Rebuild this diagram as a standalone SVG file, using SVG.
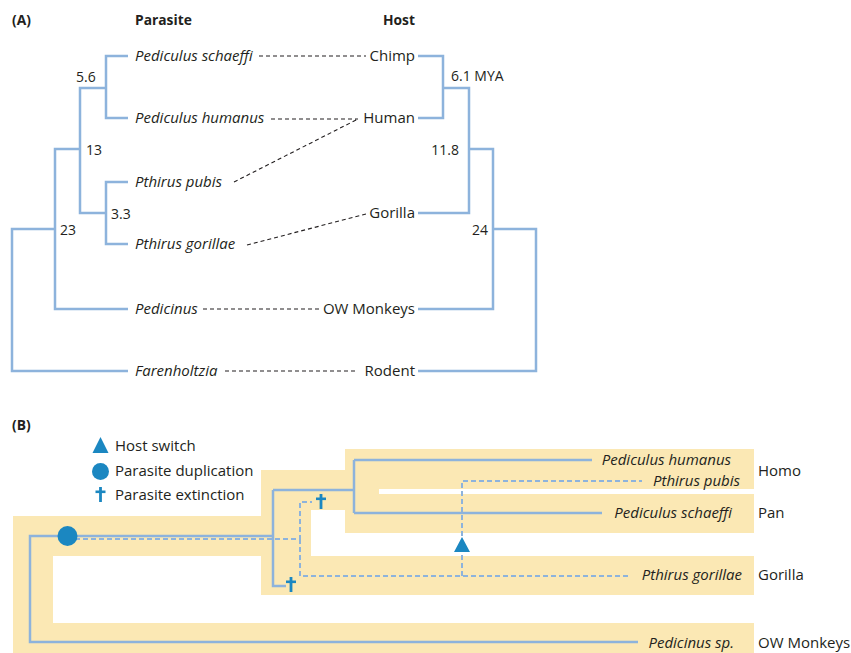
<svg xmlns="http://www.w3.org/2000/svg" width="851" height="653" viewBox="0 0 851 653">
<style>
text{font-family:"Open Sans","Noto Sans","Liberation Sans",sans-serif;font-size:15px;fill:#231f20}
.b{font-weight:bold;font-size:13.8px}
.i{font-style:italic}
.e{text-anchor:end}
.s{font-size:14px}
.tree{fill:none;stroke:#8db3dc;stroke-width:2.5}
.dash{fill:none;stroke:#8db3dc;stroke-width:2;stroke-dasharray:5 3}
.link{fill:none;stroke:#231f20;stroke-width:1.1;stroke-dasharray:4 3}
.band{fill:#fbe8b4}
.mark{fill:#1b87c1}
</style>
<defs>
<g id="dagger"><rect x="-1.4" y="0" width="2.8" height="15" class="mark"/><rect x="-5" y="3.5" width="10" height="2.6" class="mark"/></g>
</defs>
<rect width="851" height="653" fill="#fff"/>

<!-- Panel A -->
<g id="panelA-labels">
<text x="12" y="25" class="b">(A)</text>
<text x="135" y="25" class="b">Parasite</text>
<text x="383" y="25" class="b">Host</text>
</g>
<g id="parasite-tree">
<path class="tree" d="M128,56H106V118H128M106,88H80V213H106M128,182H106V244H128M80,149H55V309H128M55,229H12V371H128"/>
<text x="76" y="82" class="s">5.6</text>
<text x="86" y="155" class="s">13</text>
<text x="111" y="219" class="s">3.3</text>
<text x="60" y="235" class="s">23</text>
</g>
<g id="host-tree">
<path class="tree" d="M418,56H443V118H418M443,88H469V213H418M469,149H493V309H418M493,229H536V371H418"/>
<text x="451" y="81" class="s">6.1 MYA</text>
<text x="459" y="155" class="e s">11.8</text>
<text x="488" y="235" class="e s">24</text>
</g>
<g id="parasites">
<text x="135" y="61" class="i">Pediculus schaeffi</text>
<text x="135" y="123" class="i">Pediculus humanus</text>
<text x="135" y="187" class="i">Pthirus pubis</text>
<text x="135" y="249" class="i">Pthirus gorillae</text>
<text x="135" y="314" class="i">Pedicinus</text>
<text x="135" y="376" class="i">Farenholtzia</text>
</g>
<g id="hosts">
<text x="415" y="61" class="e">Chimp</text>
<text x="415" y="123" class="e">Human</text>
<text x="415" y="218" class="e">Gorilla</text>
<text x="415" y="314" class="e">OW Monkeys</text>
<text x="415" y="376" class="e">Rodent</text>
</g>
<g id="connectors-A">
<path class="link" d="M259,56H366M271,119H358M234,182L358,119M247,245L366,214M203,309H320M225,371H358"/>
</g>

<!-- Panel B -->
<g id="panelB-title"><text x="12" y="430" class="b">(B)</text></g>
<g id="legend">
<polygon class="mark" points="100.5,437 108.5,453 92.5,453"/>
<text x="115" y="451">Host switch</text>
<circle class="mark" cx="100.5" cy="471.5" r="8.5"/>
<text x="115" y="476">Parasite duplication</text>
<use href="#dagger" x="100.5" y="487"/>
<text x="115" y="500">Parasite extinction</text>
</g>
<g id="host-bands">
<rect class="band" x="13" y="516" width="40" height="137"/>
<rect class="band" x="13" y="516" width="250" height="40"/>
<rect class="band" x="13" y="623" width="741" height="30"/>
<rect class="band" x="261" y="470" width="50" height="125"/>
<rect class="band" x="261" y="470" width="86" height="40"/>
<rect class="band" x="345" y="449" width="409" height="40"/>
<rect class="band" x="345" y="487" width="34" height="9"/>
<rect class="band" x="345" y="494" width="409" height="39"/>
<rect class="band" x="261" y="556" width="493" height="39"/>
</g>
<g id="connectors-B">
<path class="tree" d="M67,536H30V642H638M67,536H273M273,490V586H286M273,490H354M354,460V513M354,460H592M354,513H602"/>
<path class="dash" d="M75,539H300V502H312M300,539V576H630M462,576V481H642"/>
</g>
<g id="events">
<circle class="mark" cx="67.5" cy="536" r="10"/>
<polygon class="mark" points="462,537 470,552 454,552"/>
<use href="#dagger" x="291" y="577"/>
<use href="#dagger" x="321" y="494"/>
</g>
<g id="labels-B">
<text x="731" y="465" class="i e">Pediculus humanus</text>
<text x="740" y="486" class="i e">Pthirus pubis</text>
<text x="732" y="518" class="i e">Pediculus schaeffi</text>
<text x="742" y="580" class="i e">Pthirus gorillae</text>
<text x="734" y="648" class="i e">Pedicinus sp.</text>
<text x="758" y="476">Homo</text>
<text x="758" y="518">Pan</text>
<text x="758" y="580">Gorilla</text>
<text x="758" y="648">OW Monkeys</text>
</g>
</svg>
